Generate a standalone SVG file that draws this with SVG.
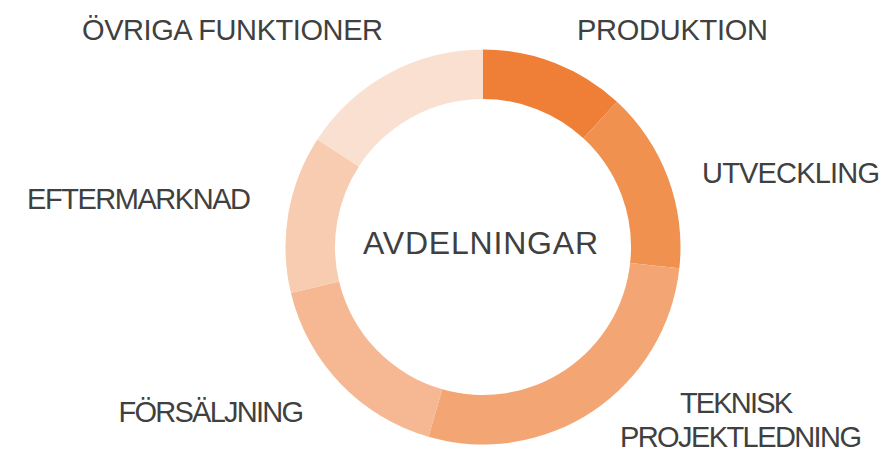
<svg xmlns="http://www.w3.org/2000/svg" width="885" height="452" viewBox="0 0 885 452">
<style>
.lbl{font-family:"Liberation Sans",Arial,sans-serif;font-size:29px;fill:#404040}
.ctr{font-family:"Liberation Sans",Arial,sans-serif;font-size:32px;fill:#404040}
</style>
<rect width="885" height="452" fill="#ffffff"/>
<g id="ring">
<path id="seg-produktion" fill="#EF7F37" d="M483,49.5 A197.5,197.5 0 0 1 616.95,101.86 L583.37,138.23 A148,148 0 0 0 483,99 Z"/>
<path id="seg-utveckling" fill="#F19150" d="M616.95,101.86 A197.5,197.5 0 0 1 679.34,268.33 L630.13,262.98 A148,148 0 0 0 583.37,138.23 Z"/>
<path id="seg-teknisk" fill="#F3A673" d="M679.34,268.33 A197.5,197.5 0 0 1 428.56,436.85 L442.21,389.27 A148,148 0 0 0 630.13,262.98 Z"/>
<path id="seg-forsaljning" fill="#F5B893" d="M428.56,436.85 A197.5,197.5 0 0 1 290.96,293.11 L339.09,281.55 A148,148 0 0 0 442.21,389.27 Z"/>
<path id="seg-eftermarknad" fill="#F8CCB0" d="M290.96,293.11 A197.5,197.5 0 0 1 317.36,139.43 L358.88,166.39 A148,148 0 0 0 339.09,281.55 Z"/>
<path id="seg-ovriga" fill="#FAE0D0" d="M317.36,139.43 A197.5,197.5 0 0 1 483,49.5 L483,99 A148,148 0 0 0 358.88,166.39 Z"/>
</g>
<g id="center"><text class="ctr" x="363" y="253.5" textLength="235">AVDELNINGAR</text></g>
<g id="label-ovriga"><text class="lbl" x="82" y="39.5" textLength="301">ÖVRIGA FUNKTIONER</text></g>
<g id="label-produktion"><text class="lbl" x="577" y="40" textLength="191">PRODUKTION</text></g>
<g id="label-utveckling"><text class="lbl" x="702" y="183" textLength="178">UTVECKLING</text></g>
<g id="label-eftermarknad"><text class="lbl" x="27" y="209" textLength="224">EFTERMARKNAD</text></g>
<g id="label-forsaljning"><text class="lbl" x="118.5" y="421.5" textLength="185.5">FÖRSÄLJNING</text></g>
<g id="label-teknisk">
<text class="lbl" x="680" y="413" textLength="113">TEKNISK</text>
<text class="lbl" x="620" y="447" textLength="242">PROJEKTLEDNING</text>
</g>
</svg>
